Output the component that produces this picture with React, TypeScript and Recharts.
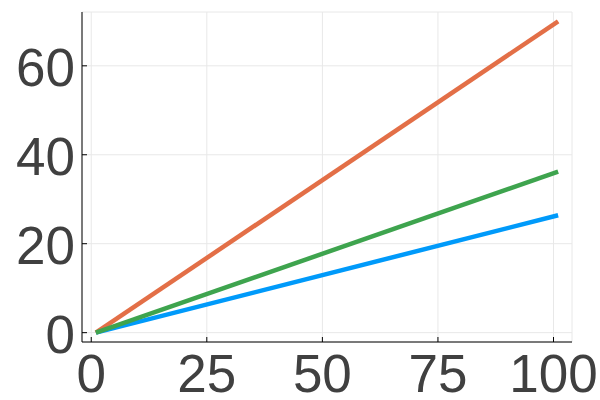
import React from 'react';
import { LineChart, Line, XAxis, YAxis, CartesianGrid } from 'recharts';

const xValues = [1, 101];
const blueValues = [0, 26.4];
const orangeValues = [0, 70];
const greenValues = [0, 36.2];
const xTicks = [0, 25, 50, 75, 100];
const yTicks = [0, 20, 40, 60];

const data = xValues.map((x, i) => ({
  x,
  y1: blueValues[i],
  y2: orangeValues[i],
  y3: greenValues[i],
}));

const FONT = '"Liberation Sans", Arial, sans-serif';

const YTick = (props: any) => {
  const { x, y, payload } = props;
  return (
    <g>
      <line x1={x + 7} x2={x + 12} y1={y} y2={y} stroke="#000" strokeWidth={1} />
      <text x={x} y={y} dy={20} textAnchor="end" fill="#404040" fontSize={53} fontFamily={FONT}>
        {payload.value}
      </text>
    </g>
  );
};

const XTick = (props: any) => {
  const { x, y, payload } = props;
  return (
    <g>
      <line x1={x} x2={x} y1={y} y2={y - 5} stroke="#000" strokeWidth={1} />
      <text x={x} y={y} dy={50} textAnchor="middle" fill="#404040" fontSize={53} fontFamily={FONT}>
        {payload.value}
      </text>
    </g>
  );
};

const App: React.FC = () => {
  return (
    <div style={{ position: 'absolute', left: 0, top: 0, width: 600, height: 400, background: '#fff' }}>
      <LineChart width={600} height={400} data={data} margin={{ top: 12, right: 28, left: 0, bottom: 0 }}>
        <CartesianGrid stroke="#e8e8e8" strokeWidth={1} />
        <XAxis
          dataKey="x"
          type="number"
          domain={[-2, 104]}
          ticks={xTicks}
          height={58}
          tickSize={0}
          tickMargin={0}
          tickLine={false}
          axisLine={{ stroke: '#000', strokeWidth: 1 }}
          tick={<XTick />}
        />
        <YAxis
          type="number"
          domain={[-2.1, 72.1]}
          ticks={yTicks}
          width={82}
          tickSize={0}
          tickMargin={7}
          tickLine={false}
          axisLine={{ stroke: '#000', strokeWidth: 1 }}
          tick={<YTick />}
        />
        <Line dataKey="y1" stroke="#009AFA" strokeWidth={4.5} dot={false} isAnimationActive={false} />
        <Line dataKey="y2" stroke="#E36F47" strokeWidth={4.5} dot={false} isAnimationActive={false} />
        <Line dataKey="y3" stroke="#3EA44E" strokeWidth={4.5} dot={false} isAnimationActive={false} />
      </LineChart>
    </div>
  );
};

export default App;
